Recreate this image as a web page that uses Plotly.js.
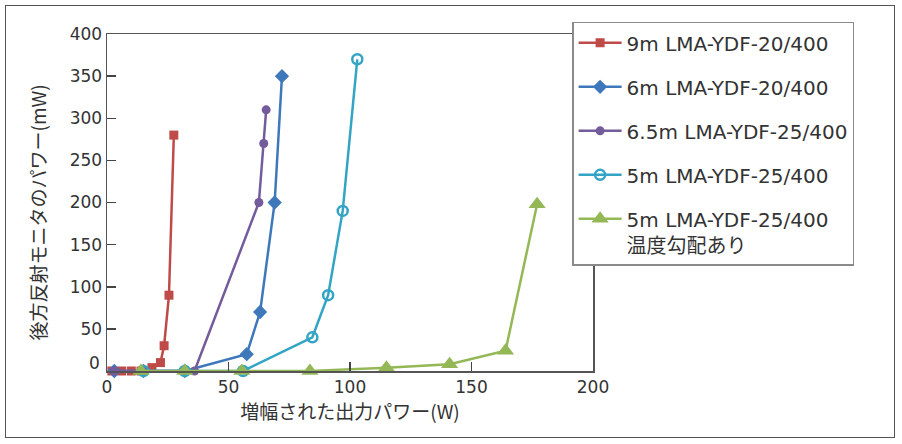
<!DOCTYPE html>
<html><head><meta charset="utf-8">
<script src="https://cdn.plot.ly/plotly-3.0.1.min.js"></script>
<style>
body{margin:0;background:#fff;}
#wrap{position:relative;width:902px;height:444px;}
#frame{position:absolute;left:5px;top:5px;width:888px;height:431px;border:1.5px solid #555;pointer-events:none;}
</style>
</head><body>
<div id="wrap"><div id="chart" style="width:902px;height:444px;"></div><div id="frame"></div></div>
<script>
// Series names
const names = [
  "9m LMA-YDF-20/400",
  "6m LMA-YDF-20/400",
  "6.5m LMA-YDF-25/400",
  "5m LMA-YDF-25/400",
  "5m LMA-YDF-25/400<br>温度勾配あり"
];
const xTitle = "増幅された出力パワー(W)";
const yTitle = "後方反射モニタのパワー(mW)";
// 9m LMA-YDF-20/400
const redX = [2, 6, 10, 14, 18.5, 22, 23.5, 25.5, 27.5];
const redY = [0, 0, 0, 0, 4, 10, 30, 90, 280];
// 6m LMA-YDF-20/400
const blueX = [3, 15, 32, 57.5, 63, 69, 72];
const blueY = [0, 0, 0, 20, 70, 200, 350];
// 6.5m LMA-YDF-25/400
const purpleX = [3, 15, 36, 62.5, 64.5, 65.5];
const purpleY = [0, 0, 0, 200, 270, 310];
// 5m LMA-YDF-25/400
const cyanX = [15, 32, 56, 84.5, 91, 97, 103];
const cyanY = [0, 0, 0, 40, 90, 190, 370];
// 5m LMA-YDF-25/400 温度勾配あり
const greenX = [14, 32, 55.5, 83.5, 115, 141, 164, 177];
const greenY = [0, 0, 0, 0, 4, 8, 24, 198];

const xTicks = [0, 50, 100, 150, 200];
const yTicks = [0, 50, 100, 150, 200, 250, 300, 350, 400];
const yTickText = ["", "50", "100", "150", "200", "250", "300", "350", "400"];

const FONT = "'DejaVu Sans', 'Noto Sans CJK JP', sans-serif";
const CJK = "'Noto Sans CJK JP', sans-serif";
const colors = ["#be4b48", "#3e78bb", "#735b9c", "#33a4c4", "#94b856"];

const traces = [
  {x: redX, y: redY, name: names[0], marker: {symbol: "square", size: 9, color: colors[0]}, line: {color: colors[0], width: 2.5}},
  {x: blueX, y: blueY, name: names[1], marker: {symbol: "diamond", size: 11, color: colors[1]}, line: {color: colors[1], width: 2.5}},
  {x: purpleX, y: purpleY, name: names[2], marker: {symbol: "circle", size: 9, color: colors[2]}, line: {color: colors[2], width: 2.5}},
  {x: cyanX, y: cyanY, name: names[3], marker: {symbol: "circle-open", size: 10, color: colors[3], line: {width: 2.5, color: colors[3]}}, line: {color: colors[3], width: 2.5}},
  {x: greenX, y: greenY, name: names[4], marker: {symbol: "triangle-up", size: 15, color: colors[4]}, line: {color: colors[4], width: 2.5}}
].map((t, i) => Object.assign(t, {type: "scatter", mode: "lines+markers", cliponaxis: false, legendgroup: "g" + i}));

const layout = {
  width: 902, height: 444,
  margin: {l: 107, r: 309, t: 34, b: 73},
  paper_bgcolor: "#fff", plot_bgcolor: "#fff",
  font: {family: FONT, color: "#333", size: 17},
  showlegend: true,
  legend: {
    x: 0.957, y: 1.036, xanchor: "left", yanchor: "top",
    bgcolor: "#fff", bordercolor: "#8a8a8a", borderwidth: 1.5,
    font: {family: FONT, size: 20, color: "#333"},
    traceorder: "grouped", tracegroupgap: 15, itemwidth: 43, valign: "top",
    maxheight: 400
  },
  xaxis: {
    range: [0, 200], tickvals: xTicks, ticks: "inside", ticklen: 9, tickwidth: 1.5, tickcolor: "#444",
    showline: true, linecolor: "#555", linewidth: 1.5, mirror: true, showgrid: false, zeroline: false,
    tickfont: {size: 17, color: "#333"},
    title: {text: xTitle, font: {family: CJK, size: 19, color: "#333"}, standoff: 9}
  },
  yaxis: {
    range: [0, 400], tickvals: yTicks, ticktext: yTickText, ticks: "inside", ticklen: 9, tickwidth: 1.5, tickcolor: "#444",
    showline: true, linecolor: "#555", linewidth: 1.5, mirror: true, showgrid: false, zeroline: false,
    tickfont: {size: 17, color: "#333"}
  },
  annotations: [
    {xref: "paper", yref: "y", x: 0, y: yTicks[0], text: String(yTicks[0]), showarrow: false,
     xanchor: "right", yanchor: "middle", xshift: -5, yshift: 8, font: {size: 17, color: "#333"}},
    {xref: "paper", yref: "paper", x: 0, y: 0.5, text: yTitle, textangle: -90, showarrow: false,
     xanchor: "center", yanchor: "middle", xshift: -70, yshift: -10, font: {family: CJK, size: 19, color: "#333"}}
  ]
};

Plotly.newPlot("chart", traces, layout, {displayModeBar: false, staticPlot: true});
</script>
</body></html>
